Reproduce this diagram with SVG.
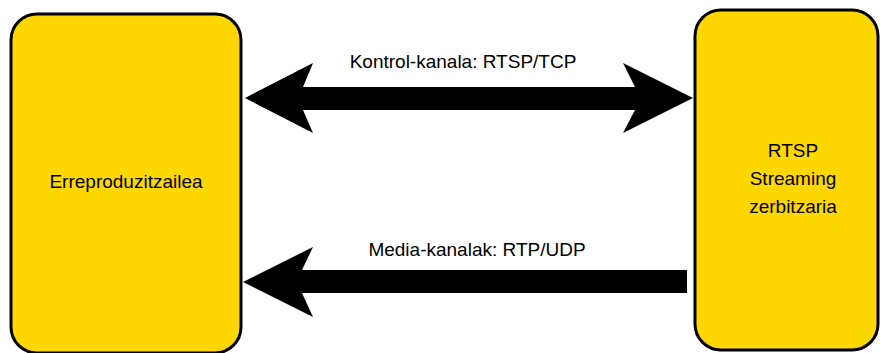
<svg xmlns="http://www.w3.org/2000/svg" width="880" height="353" viewBox="0 0 880 353">
  <style>
    .box { fill: #FFD700; stroke: #000; stroke-width: 3; }
    .lbl { font-family: "Liberation Sans", Arial, sans-serif; font-size: 19px; fill: #000; text-anchor: middle; }
    .arrow { fill: #000; stroke: none; }
  </style>
  <rect width="880" height="353" fill="#fff"/>
  <g id="player">
    <rect class="box" x="11" y="14" width="230" height="339" rx="26" ry="26"/>
    <text class="lbl" x="126" y="188">Erreproduzitzailea</text>
  </g>
  <g id="server">
    <rect class="box" x="695" y="10" width="183" height="340" rx="26" ry="26"/>
    <text class="lbl" x="793" y="157">RTSP</text>
    <text class="lbl" x="793" y="185">Streaming</text>
    <text class="lbl" x="793" y="213">zerbitzaria</text>
  </g>
  <g id="connectors">
    <!-- control channel: double-headed -->
    <polygon class="arrow" points="245,98 313,63 303,87 635,87 623,63 693,98 623,133 635,110 303,110 313,133"/>
    <text class="lbl" x="463" y="68">Kontrol-kanala: RTSP/TCP</text>
    <!-- media channel: server to player -->
    <polygon class="arrow" points="243,282 313,247 302,270 687,270 687,293 302,293 313,317"/>
    <text class="lbl" x="477" y="256">Media-kanalak: RTP/UDP</text>
  </g>
</svg>
